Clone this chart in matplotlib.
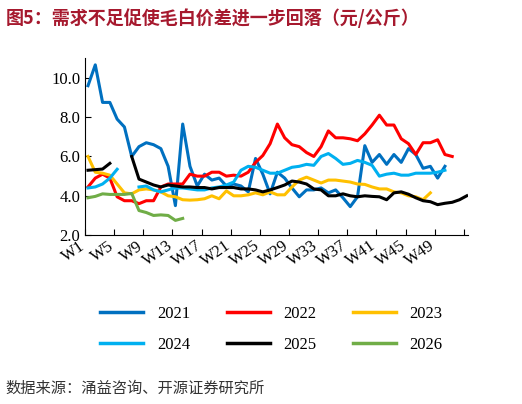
import numpy as np
import matplotlib.pyplot as plt
from matplotlib.lines import Line2D

plt.rcParams['font.family'] = ['Times New Roman', 'Liberation Serif', 'Noto Sans CJK SC']

nan = np.nan
y2021 = [9.6, 10.66, 8.75, 8.75, 7.9, 7.5, 6.0, 6.5, 6.7, 6.6, 6.4, 5.5, 3.5, 7.65, 5.5, 4.5, 5.1, 4.8, 4.9, 4.5,
         4.6, 4.5, 4.2, 5.9, 5.1, 4.1, 5.2, 4.9, 4.4, 3.95, 4.3, 4.3, 4.4, 4.15, 4.3, 3.9, 3.45, 3.95, 6.55, 5.7,
         6.1, 5.6, 6.1, 5.7, 6.4, 6.1, 5.4, 5.5, 4.9, 5.5]
y2022 = [4.45, 4.9, 5.1, 4.9, 3.95, 3.75, 3.75, 3.6, 3.75, 3.75, 4.45, 4.6, 4.6, 4.6, 5.1, 5.0, 5.0, 5.2, 5.2, 5.0,
         5.05, 5.0, 5.2, 5.7, 6.05, 6.65, 7.65, 6.95, 6.6, 6.5, 6.2, 6.0, 6.5, 7.3, 6.95, 6.95, 6.9, 6.8, 7.15, 7.6,
         8.1, 7.6, 7.6, 6.9, 6.65, 6.1, 6.7, 6.7, 6.85, 6.1, 6.0]
y2023 = [6.0, 5.2, 5.15, 5.05, 4.6, 4.15, 4.1, 4.3, 4.35, 4.3, 4.2, 4.0, 3.95, 3.8, 3.78, 3.8, 3.85, 4.0, 3.85, 4.25,
         4.0, 4.0, 4.05, 4.15, 4.05, 4.2, 4.05, 4.05, 4.45, 4.8, 4.95, 4.8, 4.65, 4.8, 4.8, 4.75, 4.7, 4.6, 4.58, 4.45,
         4.35, 4.35, 4.2, 4.15, 4.0, 3.95, 3.8, 4.15]
y2024 = [4.4, 4.45, 4.6, 4.9, 5.35, nan, nan, 4.45, 4.5, 4.3, 4.2, 4.3, 4.4, 4.4, 4.35, 4.3, 4.3, 4.4, 4.45, 4.55,
         4.7, 5.3, 5.5, 5.45, 5.3, 5.15, 5.15, 5.3, 5.45, 5.5, 5.6, 5.55, 6.0, 6.15, 5.9, 5.6, 5.65, 5.8, 5.7, 5.55,
         5.0, 5.1, 5.15, 5.05, 5.05, 5.15, 5.15, 5.15, 5.2, 5.3]
y2025 = [5.3, 5.33, 5.36, 5.65, nan, nan, 6.0, 4.85, 4.7, 4.55, 4.45, 4.55, 4.5, 4.45, 4.45, 4.42, 4.42, 4.35, 4.42, 4.42,
         4.42, 4.35, 4.35, 4.3, 4.2, 4.3, 4.42, 4.55, 4.75, 4.7, 4.6, 4.35, 4.3, 4.0, 4.0, 4.1, 4.0, 3.95, 4.0, 3.97,
         3.95, 3.8, 4.15, 4.2, 4.08, 3.9, 3.75, 3.7, 3.55, 3.62, 3.67, 3.8, 4.0]
y2026 = [3.9, 3.97, 4.1, 4.07, 4.07, 4.07, 4.12, 3.25, 3.15, 3.0, 3.03, 3.0, 2.75, 2.85]

series = [('2021', y2021, '#0070C0'), ('2022', y2022, '#FF0000'), ('2023', y2023, '#FFC000'),
          ('2024', y2024, '#00B0F0'), ('2025', y2025, '#000000'), ('2026', y2026, '#70AD47')]
week_labels = ['W%d' % w for w in range(1, 53, 4)]

fig = plt.figure(figsize=(5.22, 4.04), dpi=100)
ax = fig.add_axes([0.163, 0.418, 0.734, 0.438])
for name, vals, c in series:
    ax.plot(np.arange(1, len(vals) + 1), vals, color=c, lw=2.2, label=name)

ax.set_ylim(2, 11)
ax.set_yticks([2, 4, 6, 8, 10])
ax.set_yticklabels(['%.1f' % v for v in [2, 4, 6, 8, 10]], fontsize=12)
ax.set_xlim(0.6, 53.2)
ax.set_xticks(np.arange(0.6, 53.3, 4))
ax.set_xticklabels([])
ax.set_xticks(np.arange(1, 53, 4), minor=True)
ax.set_xticklabels(week_labels, minor=True, rotation=35, ha='right', fontsize=12)
ax.tick_params(axis='x', which='minor', length=0, pad=2)
ax.tick_params(axis='both', which='major', direction='in', length=4)
for s in ['top', 'right']:
    ax.spines[s].set_visible(False)

# row-wise legend order: 2021 2022 2023 / 2024 2025 2026
order = [0, 3, 1, 4, 2, 5]
handles = [Line2D([], [], color=series[i][2], lw=2.5) for i in order]
fig.legend(handles, [series[i][0] for i in order], ncol=3, loc='center', bbox_to_anchor=(0.52, 0.185),
           frameon=False, fontsize=12, handlelength=2.6, columnspacing=2.2, labelspacing=0.9)

fig.text(0.01, 0.955, '图5：需求不足促使毛白价差进一步回落（元/公斤）', family=['Noto Sans CJK SC'],
         fontsize=13, fontweight='bold', color='#A6192E', va='center')
fig.text(0.01, 0.04, '数据来源：涌益咨询、开源证券研究所', family=['Noto Sans CJK SC'],
         fontsize=11, color='#333333', va='center')
fig.savefig('out.png')
